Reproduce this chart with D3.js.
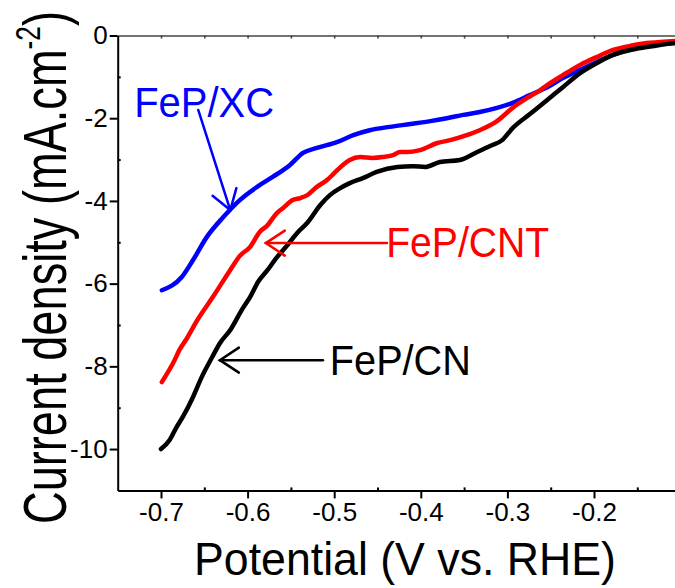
<!DOCTYPE html>
<html>
<head>
<meta charset="utf-8">
<script src="https://cdn.jsdelivr.net/npm/d3@7"></script>
<style>
  html, body { margin: 0; padding: 0; background: #fff; }
  svg { display: block; font-family: "Liberation Sans", Arial, sans-serif; }
</style>
</head>
<body>
<svg id="chart" width="675" height="588"></svg>
<script>
// LSV polarization curves, potential (V vs. RHE) and current density (mA cm^-2)
const cnPotential = [-0.700,-0.690,-0.682,-0.675,-0.663,-0.653,-0.641,-0.632,-0.620,-0.606,-0.597,-0.588,-0.578,-0.566,-0.554,-0.543,-0.531,-0.516,-0.505,-0.493,-0.482,-0.467,-0.451,-0.427,-0.409,-0.395,-0.378,-0.355,-0.337,-0.320,-0.306,-0.294,-0.274,-0.254,-0.236,-0.216,-0.197,-0.178,-0.158,-0.139,-0.124,-0.106];
const cnCurrent   = [-10.00,-9.78,-9.47,-9.23,-8.74,-8.26,-7.78,-7.44,-7.12,-6.61,-6.32,-5.96,-5.70,-5.36,-5.07,-4.78,-4.53,-4.10,-3.86,-3.69,-3.57,-3.45,-3.30,-3.18,-3.16,-3.18,-3.06,-3.01,-2.84,-2.67,-2.53,-2.24,-1.90,-1.56,-1.25,-0.91,-0.67,-0.47,-0.35,-0.28,-0.23,-0.18];

const cntPotential = [-0.699,-0.686,-0.678,-0.670,-0.658,-0.640,-0.620,-0.609,-0.597,-0.586,-0.578,-0.566,-0.559,-0.548,-0.539,-0.531,-0.520,-0.508,-0.501,-0.490,-0.482,-0.470,-0.456,-0.444,-0.432,-0.424,-0.416,-0.401,-0.381,-0.366,-0.347,-0.332,-0.312,-0.294,-0.277,-0.262,-0.254,-0.236,-0.216,-0.197,-0.178,-0.158,-0.139,-0.124,-0.106];
const cntCurrent   = [-8.38,-7.92,-7.58,-7.32,-6.88,-6.32,-5.67,-5.33,-5.11,-4.75,-4.61,-4.29,-4.17,-3.98,-3.93,-3.86,-3.66,-3.49,-3.35,-3.13,-3.01,-2.94,-2.96,-2.94,-2.89,-2.82,-2.82,-2.77,-2.60,-2.53,-2.41,-2.29,-2.07,-1.75,-1.51,-1.32,-1.20,-0.96,-0.71,-0.52,-0.35,-0.25,-0.18,-0.16,-0.13];

const xcPotential = [-0.699,-0.676,-0.663,-0.647,-0.628,-0.609,-0.589,-0.571,-0.551,-0.536,-0.520,-0.497,-0.478,-0.459,-0.436,-0.412,-0.389,-0.370,-0.351,-0.332,-0.312,-0.294,-0.274,-0.254,-0.236,-0.216,-0.197,-0.178,-0.158,-0.139,-0.124,-0.106];
const xcCurrent   = [-6.16,-5.84,-5.43,-4.87,-4.39,-3.98,-3.66,-3.42,-3.13,-2.84,-2.72,-2.58,-2.41,-2.29,-2.21,-2.14,-2.07,-2.00,-1.92,-1.85,-1.75,-1.63,-1.44,-1.25,-1.03,-0.83,-0.64,-0.47,-0.33,-0.25,-0.21,-0.18];

const seriesNames  = ["FeP/XC", "FeP/CNT", "FeP/CN"];
const seriesColors = ["#0000ff", "#ff0000", "#000000"];

const xMajorTicks = [-0.7, -0.6, -0.5, -0.4, -0.3, -0.2];
const xMinorTicks = [-0.65, -0.55, -0.45, -0.35, -0.25, -0.15];
const yMajorTicks = [0, -2, -4, -6, -8, -10];
const yMinorTicks = [-1, -3, -5, -7, -9];
const zeroLineTicks = [-0.7, -0.65, -0.6, -0.55, -0.5, -0.45, -0.4, -0.35, -0.3, -0.25, -0.2, -0.15];

// label anchor points in data units: [potential, current]
const labelAnchors = [[-0.731, -1.97], [-0.440, -5.36], [-0.505, -8.21]];
// arrows: [fromPotential, fromCurrent, toPotential, toCurrent]
const arrowPaths = [[-0.657, -1.80, -0.620, -4.22], [-0.439, -5.02, -0.579, -5.02], [-0.513, -7.85, -0.632, -7.85]];

const svg = d3.select("#chart");
const x = d3.scaleLinear().domain([-0.75, -0.1]).range([117.7, 680.6]);
const y = d3.scaleLinear().domain([0, -11]).range([35.5, 490.4]);

// zero line across the top
const zeroAxis = svg.append("g")
  .attr("transform", `translate(0,${y(0)})`)
  .call(d3.axisBottom(x).tickValues(zeroLineTicks).tickSize(3).tickSizeOuter(0).tickFormat(""));

// bottom axis
svg.append("g")
  .attr("transform", `translate(0,${y(-11)})`)
  .call(d3.axisBottom(x).tickValues(xMajorTicks).tickSize(8).tickPadding(4).tickSizeOuter(0)
    .tickFormat(d => d.toFixed(1)));
svg.append("g")
  .attr("transform", `translate(0,${y(-11)})`)
  .call(d3.axisBottom(x).tickValues(xMinorTicks).tickSize(-3).tickSizeOuter(0).tickFormat(""))
  .select(".domain").remove();

// left axis
svg.append("g")
  .attr("transform", `translate(${x(-0.75)},0)`)
  .call(d3.axisLeft(y).tickValues(yMajorTicks).tickSize(8).tickPadding(2).tickSizeOuter(0)
    .tickFormat(d => String(d)));
svg.append("g")
  .attr("transform", `translate(${x(-0.75)},0)`)
  .call(d3.axisLeft(y).tickValues(yMinorTicks).tickSize(-3).tickSizeOuter(0).tickFormat(""))
  .select(".domain").remove();

svg.selectAll(".tick line, .domain").attr("stroke-width", 2);
zeroAxis.selectAll("path, line").attr("stroke", "#444").attr("stroke-width", 1.6);
svg.selectAll(".tick text")
  .attr("font-family", "'Liberation Sans', Arial, sans-serif")
  .attr("font-size", 26)
  .attr("fill", "#000");

// curves
const line = d3.line().curve(d3.curveMonotoneX).x(d => x(d[0])).y(d => y(d[1]));
const seriesData = [
  d3.zip(xcPotential, xcCurrent),
  d3.zip(cntPotential, cntCurrent),
  d3.zip(cnPotential, cnCurrent)
];
svg.append("g").selectAll("path.curve")
  .data(seriesData)
  .join("path")
  .attr("class", "curve")
  .attr("d", line)
  .attr("fill", "none")
  .attr("stroke", (d, i) => seriesColors[i])
  .attr("stroke-width", 4.5)
  .attr("stroke-linejoin", "round")
  .attr("stroke-linecap", "round");

// annotation arrows with open heads
arrowPaths.forEach((a, i) => {
  const x0 = x(a[0]), y0 = y(a[1]), x1 = x(a[2]), y1 = y(a[3]);
  const len = Math.hypot(x1 - x0, y1 - y0);
  const ux = (x1 - x0) / len, uy = (y1 - y0) / len;
  const bx = x1 - 19 * ux, by = y1 - 19 * uy;
  const px = -uy, py = ux;
  const g = svg.append("g")
    .attr("stroke", seriesColors[i]).attr("stroke-width", 2.5).attr("fill", "none")
    .attr("stroke-linecap", "round");
  g.append("line").attr("x1", x0).attr("y1", y0).attr("x2", x1).attr("y2", y1);
  g.append("polyline").attr("points",
    `${bx + 12.5 * px},${by + 12.5 * py} ${x1},${y1} ${bx - 12.5 * px},${by - 12.5 * py}`)
    .attr("stroke-linejoin", "miter");
});

// series labels
const labelWidths = [140, 163, 141];
labelAnchors.forEach((p, i) => {
  svg.append("text")
    .attr("x", x(p[0])).attr("y", y(p[1]))
    .attr("font-size", 42)
    .attr("fill", seriesColors[i])
    .attr("textLength", labelWidths[i])
    .attr("lengthAdjust", "spacingAndGlyphs")
    .text(seriesNames[i]);
});

// x axis title
svg.append("text")
  .attr("x", 194).attr("y", 575)
  .attr("font-size", 46)
  .attr("textLength", 422)
  .attr("lengthAdjust", "spacingAndGlyphs")
  .text("Potential (V vs. RHE)");

// y axis title, rotated, with superscript
const yTitleG = svg.append("g");
const yTitle = yTitleG.append("text")
  .attr("x", 0).attr("y", 0)
  .attr("font-size", 62);
yTitle.append("tspan").text("Current density (mA.cm");
yTitle.append("tspan").attr("font-size", 36).attr("dy", -26).text("-2");
yTitle.append("tspan").attr("dy", 26).text(")");
const natural = yTitle.node().getComputedTextLength();
const sx = 513 / natural;
yTitleG.attr("transform", `translate(66,524) rotate(-90) scale(${sx},1)`);
</script>
</body>
</html>
